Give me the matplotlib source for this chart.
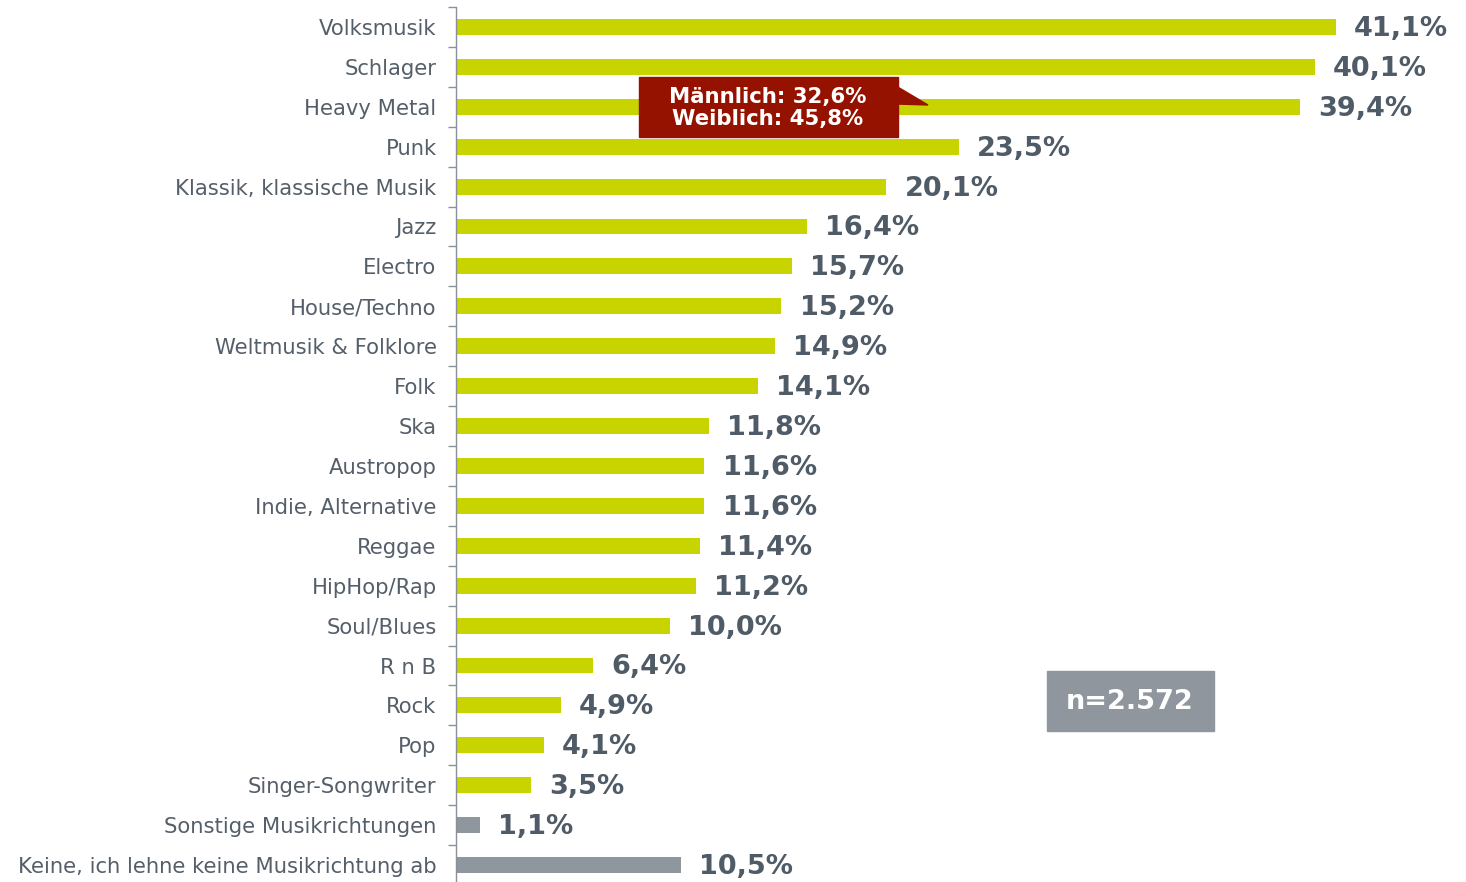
import numpy as np
import matplotlib.pyplot as plt
from matplotlib.patches import Rectangle, Polygon

plt.rcParams['font.family'] = ['DejaVu Sans']

categories = ["Volksmusik", "Schlager", "Heavy Metal", "Punk", "Klassik, klassische Musik",
              "Jazz", "Electro", "House/Techno", "Weltmusik & Folklore", "Folk", "Ska",
              "Austropop", "Indie, Alternative", "Reggae", "HipHop/Rap", "Soul/Blues",
              "R n B", "Rock", "Pop", "Singer-Songwriter", "Sonstige Musikrichtungen",
              "Keine, ich lehne keine Musikrichtung ab"]
values = [41.1, 40.1, 39.4, 23.5, 20.1, 16.4, 15.7, 15.2, 14.9, 14.1, 11.8,
          11.6, 11.6, 11.4, 11.2, 10.0, 6.4, 4.9, 4.1, 3.5, 1.1, 10.5]
value_labels = ["41,1%", "40,1%", "39,4%", "23,5%", "20,1%", "16,4%", "15,7%", "15,2%",
                "14,9%", "14,1%", "11,8%", "11,6%", "11,6%", "11,4%", "11,2%", "10,0%",
                "6,4%", "4,9%", "4,1%", "3,5%", "1,1%", "10,5%"]
callout_lines = ["Männlich: 32,6%", "Weiblich: 45,8%"]
sample_text = "n=2.572"

green = "#c8d400"
grey_bar = "#8f969e"
text_col = "#4f5b66"

colors = [green] * 20 + [grey_bar] * 2

fig = plt.figure(figsize=(14.66, 8.82), dpi=100)
ax = fig.add_axes([456 / 1466, -3 / 882, 1010 / 1466, 878 / 882])

y = np.arange(len(categories))
ax.barh(y, values, height=0.4, color=colors)

xmax = 1010 / 21.41
ax.set_xlim(0, xmax)
ax.set_ylim(21.5, -0.5)

for yi, v, lab in zip(y, values, value_labels):
    ax.text(v + 0.85, yi + 0.05, lab, va="center", ha="left", fontsize=19.5,
            fontweight="bold", color=text_col)

ax.set_yticks(y)
ax.set_yticklabels(categories, fontsize=15.2, color="#555f6a")
ax.set_yticks(np.arange(-0.5, 22, 1), minor=True)
ax.tick_params(axis="y", which="major", length=0, pad=14)
ax.tick_params(axis="y", which="minor", length=6, color="#8a9099", width=1)
ax.set_xticks([])
for s in ["top", "right", "bottom"]:
    ax.spines[s].set_visible(False)
ax.spines["left"].set_color("#8a9099")
ax.spines["left"].set_linewidth(1)

# callout (Heavy Metal)
fig_tr = fig.transFigure
red = "#961200"
fig.patches.append(Rectangle((639 / 1466, 1 - 137 / 882), 259 / 1466, 60 / 882,
                             transform=fig_tr, color=red, zorder=5))
fig.patches.append(Polygon([(896 / 1466, 1 - 86 / 882), (928 / 1466, 1 - 105 / 882),
                            (896 / 1466, 1 - 104 / 882)],
                           transform=fig_tr, color=red, zorder=5))
fig.text(768 / 1466, 1 - 108 / 882, "\n".join(callout_lines), ha="center", va="center",
         fontsize=15.3, fontweight="bold", color="white", linespacing=1.12, zorder=6)

# sample size box
fig.patches.append(Rectangle((1047 / 1466, 1 - 731 / 882), 167 / 1466, 60 / 882,
                             transform=fig_tr, color=grey_bar, zorder=5))
fig.text(1130 / 1466, 1 - 702 / 882, sample_text, ha="center", va="center",
         fontsize=19.5, fontweight="bold", color="white", zorder=6)

fig.savefig("out.png", dpi=100)
